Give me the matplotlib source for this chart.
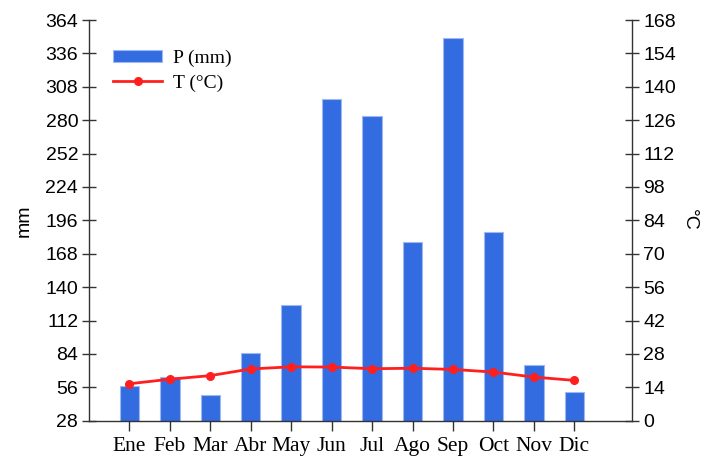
import matplotlib
matplotlib.use("Agg")
import matplotlib.pyplot as plt
import numpy as np

meses = ['Ene', 'Feb', 'Mar', 'Abr', 'May', 'Jun', 'Jul', 'Ago', 'Sep', 'Oct', 'Nov', 'Dic']
precip = [57.3, 64.9, 49.3, 85.0, 124.8, 298.0, 283.3, 178.1, 349.2, 186.2, 74.7, 52.3]
temp = [15.5, 17.4, 18.9, 21.7, 22.6, 22.5, 21.8, 22.0, 21.5, 20.4, 18.3, 16.9]

mm_ticks = np.arange(28, 365, 28)
c_ticks = np.arange(0, 169, 14)

sans = 'Liberation Sans'
serif = 'Liberation Serif'

fig = plt.figure(figsize=(7.13, 4.59), dpi=100)
ax = fig.add_axes([0.1252, 0.0834, 0.7616, 0.873])
ax2 = ax.twinx()

pos = np.arange(len(meses))
b = ax.bar(pos, precip, 0.48, bottom=0, color='#336ce0', edgecolor='#9db8f2', linewidth=0.8, zorder=2)
ax.set_ylim(28, 364)
ax.set_xlim(-0.99, 12.43)
ax.set_yticks(mm_ticks)
ax.set_yticklabels([str(t) for t in mm_ticks], fontfamily=sans, fontsize=14)
ax.set_xticks(pos)
ax.set_xticklabels(meses, fontfamily=serif, fontsize=15.5)
ax.set_ylabel('mm', fontfamily=sans, fontsize=14, labelpad=9)

l, = ax2.plot(pos, temp, color='#ff1f1f', linewidth=2, marker='o', markersize=5.5, zorder=3)
ax2.set_ylim(0, 168)
ax2.set_yticks(c_ticks)
ax2.set_yticklabels([str(t) for t in c_ticks], fontfamily=sans, fontsize=14)
ax2.set_ylabel('°C', fontfamily=sans, fontsize=14, rotation=270, labelpad=16)

for a in (ax, ax2):
    a.spines['top'].set_visible(False)
    for s in a.spines.values():
        s.set_color('#333333')
        s.set_linewidth(1)
ax.spines['right'].set_visible(False)
ax2.spines['left'].set_visible(False)
ax2.spines['bottom'].set_visible(False)

ax.tick_params(axis='y', direction='inout', length=10, width=1, color='#333333', pad=3)
ax2.tick_params(axis='y', direction='inout', length=10, width=1, color='#333333', pad=3)
ax.tick_params(axis='x', direction='out', length=7, width=1, color='#333333', pad=5)

leg = fig.legend([b, l], ['P (mm)', 'T (°C)'], loc='upper left', bbox_to_anchor=(0.14, 0.922),
                 frameon=False, prop={'family': serif, 'size': 14}, handlelength=2.5,
                 handleheight=0.6, handletextpad=0.55, labelspacing=0.4, borderpad=0.2)

fig.savefig('out.png', dpi=100)
